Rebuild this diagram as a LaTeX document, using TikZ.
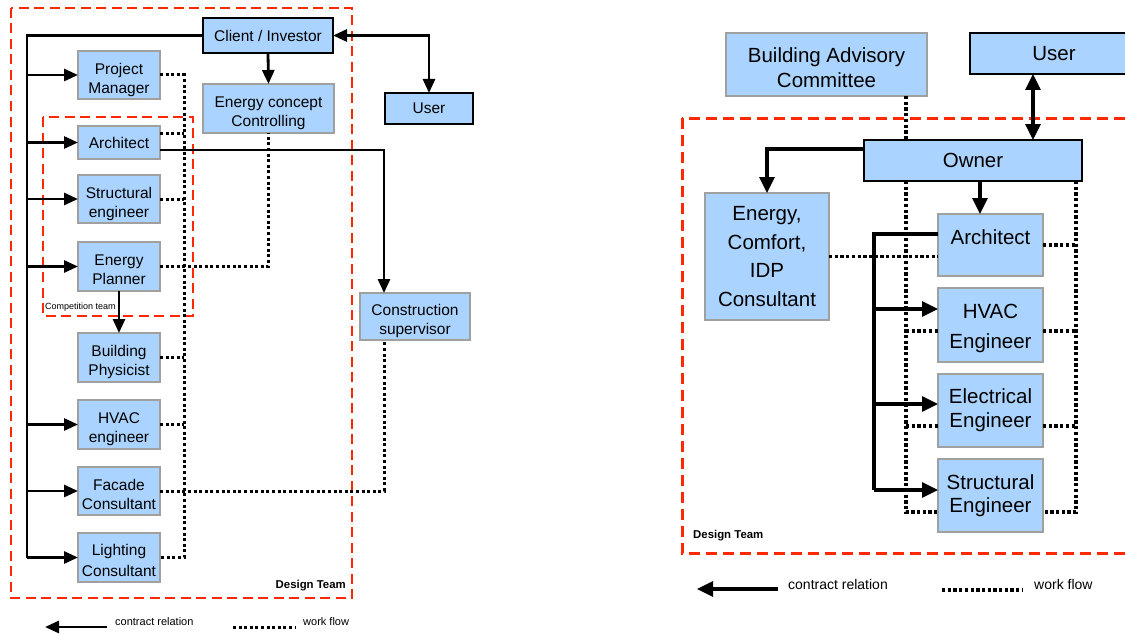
\documentclass[tikz,border=0pt]{standalone}
\usepackage{fontspec}
\setmainfont{Liberation Sans}
\usetikzlibrary{arrows.meta,calc}
\definecolor{boxblue}{RGB}{170,212,255}
\definecolor{boxgray}{RGB}{160,160,160}
\definecolor{teamred}{RGB}{255,40,0}
\begin{document}
\begin{tikzpicture}[x=1pt,y=-1pt,
  lbox/.style={draw=boxgray,line width=2pt,fill=boxblue,inner sep=0pt,outer sep=0pt,align=center,font=\fontsize{15.5}{19}\selectfont},
  ltwo/.style={lbox,text depth=0pt,text height=36pt},
  lkey/.style={lbox,draw=black,line width=2.3pt},
  rbox/.style={draw=boxgray,line width=2.5pt,fill=boxblue,inner sep=0pt,outer sep=0pt,align=center,font=\fontsize{20.5}{25}\selectfont},
  rkey/.style={rbox,draw=black,line width=2.6pt},
  lline/.style={line width=2.8pt,>={Triangle[length=14pt,width=12pt]}},
  rline/.style={line width=3.2pt,>={Triangle[length=16pt,width=15pt]}},
  lflow/.style={line width=3pt,dash pattern=on 3pt off 2.6pt},
  rflow/.style={line width=3.3pt,dash pattern=on 3.3pt off 2.4pt},
  lteam/.style={draw=teamred,line width=2.6pt,dash pattern=on 10pt off 5.5pt},
  rteam/.style={draw=teamred,line width=3pt,dash pattern=on 11pt off 6pt},
  teamlabel/.style={font=\fontsize{11.4}{13}\selectfont\bfseries,inner sep=0pt},
  keytext/.style={anchor=west,inner sep=0pt}
]
\useasboundingbox (0,0) rectangle (1125,634);
\fill[white] (0,0) rectangle (1125,634);
\clip (0,0) rectangle (1125,634);

% ---------------- left organisation ----------------
\draw[lteam] (11,8) rectangle (352,598);
\draw[lteam] (43,117) rectangle (193,316);

\node[lkey,minimum width=130pt,minimum height=35pt] (client) at (268,35.5) {Client / Investor};
\node[ltwo,minimum width=131pt,minimum height=49pt] (econ) at (268.5,108.5) {Energy concept\\Controlling};
\node[lkey,minimum width=88pt,minimum height=31pt] (luser) at (429,108.5) {User};
\node[ltwo,minimum width=110pt,minimum height=47pt,text height=35.5pt,font=\fontsize{15.5}{18.5}\selectfont] (csup) at (415,316.5) {Construction\\supervisor};

\node[ltwo,minimum width=82pt,minimum height=48pt] (pm) at (119,75) {Project\\Manager};
\node[lbox,minimum width=82pt,minimum height=33pt] (arch) at (119,142.5) {Architect};
\node[ltwo,minimum width=82pt,minimum height=48pt] (struct) at (119,199) {Structural\\engineer};
\node[ltwo,minimum width=82pt,minimum height=49pt] (eplan) at (119,266.5) {Energy\\Planner};
\node[ltwo,minimum width=82pt,minimum height=49pt] (bphys) at (119,357.5) {Building\\Physicist};
\node[ltwo,minimum width=82pt,minimum height=49pt] (hvac) at (119,424.5) {HVAC\\engineer};
\node[ltwo,minimum width=82pt,minimum height=48pt] (facade) at (119,491) {Facade\\Consultant};
\node[ltwo,minimum width=82pt,minimum height=49pt,text height=38pt,font=\fontsize{15.5}{21}\selectfont] (light) at (119,557.5) {Lighting\\Consultant};

\node[anchor=west,inner sep=0pt,font=\fontsize{9}{10}\selectfont] (comptxt) at (45,307.5) {Competition team};
\node[teamlabel,anchor=east] (ldesign) at (346,586) {Design Team};

% work flow (dotted)
\coordinate (ftop) at (184,75);
\coordinate (fbot) at (184,557.5);
\coordinate (archflow) at ($(arch.east)+(0,-9.5)$);
\coordinate (csupin) at ($(csup.north)+(-31,0)$);
\coordinate (csupout) at ($(csup.south)+(-31,0)$);
\draw[lflow] (pm.east) -- (ftop) -- (fbot) -- (light.east);
\draw[lflow] (archflow) -- (archflow -| ftop);
\draw[lflow] (struct.east) -- (struct.east -| ftop);
\draw[lflow] (bphys.east) -- (bphys.east -| ftop);
\draw[lflow] (hvac.east) -- (hvac.east -| ftop);
\draw[lflow] (eplan.east) -| (econ.south);
\draw[lflow] (facade.east) -| (csupout);

% contract relations (solid)
\coordinate (ltrunk) at (27,35.5);
\draw[lline] (client.west) -- (ltrunk) -- (ltrunk |- light.west);
\foreach \n in {pm,arch,struct,eplan,hvac,facade,light}
  \draw[lline,->] (ltrunk |- \n.west) -- (\n.west);
\draw[lline,->] (client.south) -- (econ.north);
\draw[lline,<->] (client.east) -| (luser.north);
\draw[lline,->] (eplan.south) -- (bphys.north);
\coordinate (archout) at ($(arch.east)+(0,7.5)$);
\draw[lline,->] (archout) -| (csupin);

% key
\coordinate (lkA) at (107,627);
\coordinate (lkB) at (45,627);
\coordinate (lkC) at (233,627);
\coordinate (lkD) at (296,627);
\draw[lline,->] (lkA) -- (lkB);
\draw[lflow] (lkC) -- (lkD);
\node[keytext,font=\fontsize{11}{13}\selectfont] (lktxt1) at (115,622) {contract relation};
\node[keytext,font=\fontsize{11}{13}\selectfont] (lktxt2) at (303,622) {work flow};

% ---------------- right organisation ----------------
\draw[rteam] (682,118) rectangle (1140,553);

\node[rbox,minimum width=201pt,minimum height=63pt,text depth=0pt,text height=46pt] (bac) at (826.5,64.5) {Building Advisory\\Committee};
\node[rkey,minimum width=168pt,minimum height=41pt] (ruser) at (1054,53.5) {User};
\node[rkey,minimum width=218pt,minimum height=41pt] (owner) at (973,160.5) {Owner};
\node[rbox,minimum width=124pt,minimum height=127pt,font=\fontsize{20.5}{28.5}\selectfont] (ecic) at (767,256.5) {Energy,\\Comfort,\\IDP\\Consultant};
\node[rbox,minimum width=105pt,minimum height=62pt,text depth=16pt] (rarch) at (990.5,245) {Architect};
\node[rbox,minimum width=105pt,minimum height=74pt,text depth=0pt,text height=47pt,font=\fontsize{20.5}{30.5}\selectfont] (rhvac) at (990.5,325) {HVAC\\Engineer};
\node[rbox,minimum width=105pt,minimum height=73pt,font=\fontsize{20.5}{24}\selectfont] (relec) at (990.5,410.5) {Electrical\\Engineer};
\node[rbox,minimum width=105pt,minimum height=73pt,font=\fontsize{20.5}{23}\selectfont] (rstruct) at (990.5,495.5) {Structural\\Engineer};

\node[teamlabel,anchor=west] (rdesign) at (693,536) {Design Team};

% work flow (dotted)
\coordinate (rl) at (906,181);
\coordinate (rr) at (1076,181);
\coordinate (rlb) at (906,512);
\coordinate (rrb) at (1076,512);
\draw[rflow] (bac.south -| rl) -- (owner.north -| rl);
\draw[rflow] (owner.south -| rl) -- (rlb) -- (rlb -| rstruct.west);
\draw[rflow] (owner.south -| rr) -- (rrb) -- (rrb -| rstruct.east);
\draw[rflow] (ecic.east) -- (ecic.east -| rarch.west);
\draw[rflow] (rarch.east) -- (rarch.east -| rr);
\coordinate (hvfl) at ($(rhvac.west)+(0,6)$);
\coordinate (hvfr) at ($(rhvac.east)+(0,6)$);
\coordinate (elfl) at ($(relec.west)+(0,15.5)$);
\coordinate (elfr) at ($(relec.east)+(0,15.5)$);
\draw[rflow] (hvfl -| rl) -- (hvfl);
\draw[rflow] (hvfr) -- (hvfr -| rr);
\draw[rflow] (elfl -| rl) -- (elfl);
\draw[rflow] (elfr) -- (elfr -| rr);

% contract relations (solid)
\coordinate (ownerout) at ($(owner.west)+(0,-11.5)$);
\draw[rline,->] (ownerout) -| (ecic.north);
\coordinate (oa) at (980,0);
\draw[rline,->] (owner.south -| oa) -- (rarch.north -| oa);
\coordinate (uo) at (1033,0);
\draw[rline,<->] (ruser.south -| uo) -- (owner.north -| uo);
\coordinate (rt) at (874,0);
\coordinate (archin) at ($(rarch.west)+(0,-11)$);
\coordinate (hvin) at ($(rhvac.west)+(0,-16)$);
\coordinate (elin) at ($(relec.west)+(0,-6.5)$);
\coordinate (stin) at ($(rstruct.west)+(0,-5.5)$);
\draw[rline] (archin) -- (archin -| rt) -- (stin -| rt);
\draw[rline,->] (hvin -| rt) -- (hvin);
\draw[rline,->] (elin -| rt) -- (elin);
\draw[rline,->] (stin -| rt) -- (stin);

% key
\coordinate (rkA) at (778,589);
\coordinate (rkB) at (697,589);
\coordinate (rkC) at (942,590);
\coordinate (rkD) at (1023,590);
\draw[rline,->] (rkA) -- (rkB);
\draw[rflow] (rkC) -- (rkD);
\node[keytext,font=\fontsize{14}{16}\selectfont] (rktxt1) at (788,584) {contract relation};
\node[keytext,font=\fontsize{14}{16}\selectfont] (rktxt2) at (1034,584) {work flow};
\end{tikzpicture}
\end{document}
